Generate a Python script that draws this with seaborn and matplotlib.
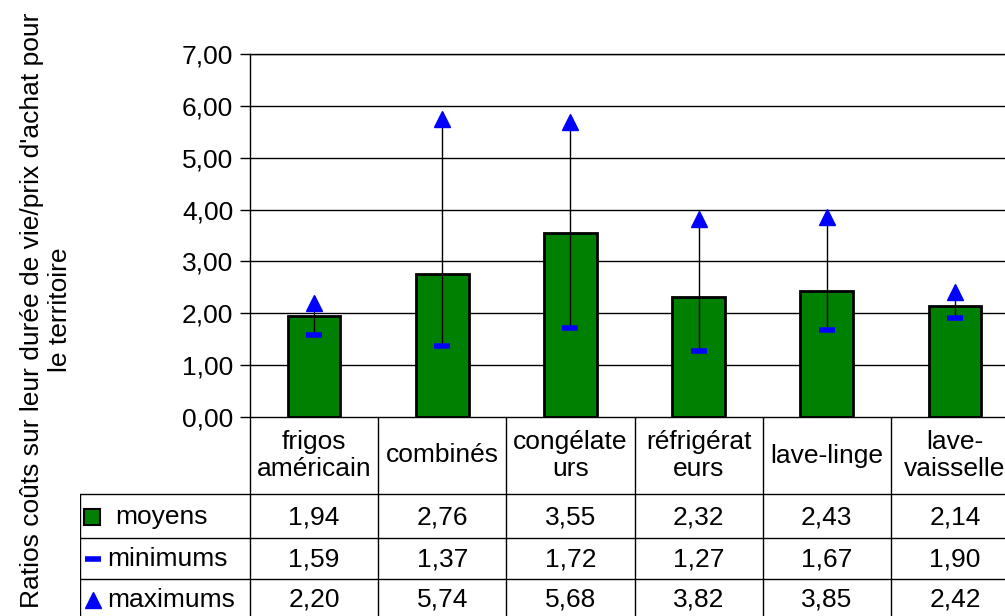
import matplotlib
matplotlib.use("Agg")
import matplotlib.pyplot as plt
import seaborn as sns

# data
categories = ["frigos américain", "combinés", "congélateurs", "réfrigérateurs", "lave-linge", "lave-vaisselle"]
header_labels = ["frigos\naméricain", "combinés", "congélate\nurs", "réfrigérat\neurs", "lave-linge", "lave-\nvaisselle"]
moyens = [1.94, 2.76, 3.55, 2.32, 2.43, 2.14]
minimums = [1.59, 1.37, 1.72, 1.27, 1.67, 1.90]
maximums = [2.20, 5.74, 5.68, 3.82, 3.85, 2.42]
yticks = [0, 1, 2, 3, 4, 5, 6, 7]

sns.set_style("white")
plt.rcParams['font.family'] = ['Liberation Sans', 'DejaVu Sans']
plt.rcParams['text.color'] = 'black'
plt.rcParams['ytick.color'] = 'black'
plt.rcParams['xtick.color'] = 'black'
FS = 19

W, H = 1005, 616
fig = plt.figure(figsize=(W / 100, H / 100), dpi=100)

# plot area (runs past the right edge like the original)
left_px, right_px, top_px, bot_px = 250, 1019, 54, 417
ax = fig.add_axes([left_px / W, 1 - bot_px / H, (right_px - left_px) / W, (bot_px - top_px) / H])

x = list(range(len(categories)))
sns.barplot(x=categories, y=moyens, color="#008000", saturation=1, edgecolor="black",
            linewidth=2, width=0.41, ax=ax, zorder=3)
ax.vlines(x, minimums, maximums, color="black", linewidth=1, zorder=4)
ax.plot(x, minimums, linestyle="none", marker="_", markersize=12, markeredgewidth=4,
        color="#0000ff", zorder=5)
ax.plot(x, maximums, linestyle="none", marker="^", markersize=12, color="#0000ff", zorder=5)

ax.set_xlim(-0.5, 5.5)
ax.set_ylim(0, 7)
ax.set_yticks(yticks)
ax.set_yticklabels([f"{v:.2f}".replace(".", ",") for v in yticks], fontsize=FS, color="black")
ax.set_xticks([])
ax.set_xlabel("")
for y in yticks[1:]:
    ax.axhline(y, color="black", linewidth=1, zorder=1)
for s in ax.spines.values():
    s.set_color("black")
    s.set_linewidth(1)
ax.tick_params(axis="y", length=7, width=1, color="black", left=True, pad=5)

# data table underneath
col_px = (right_px - left_px) / len(categories)
tab_left_px = 80
tax = fig.add_axes([tab_left_px / W, 0, (right_px - tab_left_px) / W, (H - bot_px) / H])
tax.set_xlim(-0.5 - (left_px - tab_left_px) / col_px, 5.5)
tax.set_ylim(H, bot_px)
tax.axis("off")

row_lines = [494, 538, 579, 620]
row_centers = [517, 559, 600]
xl = tax.get_xlim()[0]
for i in range(len(categories) + 1):
    tax.plot([i - 0.5, i - 0.5], [bot_px, H], color="black", linewidth=1, clip_on=False)
tax.plot([xl, xl], [row_lines[0], H], color="black", linewidth=1)
for r in row_lines[:3]:
    tax.plot([xl, 5.5], [r, r], color="black", linewidth=1)

for i, lab in enumerate(header_labels):
    tax.text(i, (bot_px + row_lines[0]) / 2, lab, ha="center", va="center",
             fontsize=FS, linespacing=1.2)

for row, yc in zip([moyens, minimums, maximums], row_centers):
    for i, v in enumerate(row):
        tax.text(i, yc, f"{v:.2f}".replace(".", ","), ha="center", va="center", fontsize=FS)

def px(p):
    return -0.5 + (p - left_px) / col_px

tax.plot(px(92), row_centers[0], marker="s", markersize=11, markerfacecolor="#008000",
         markeredgecolor="black", markeredgewidth=1.5)
tax.text(px(115), row_centers[0], "moyens", ha="left", va="center", fontsize=FS)
tax.plot(px(93), row_centers[1], marker="_", markersize=11, markeredgewidth=4, color="#0000ff")
tax.text(px(107), row_centers[1], "minimums", ha="left", va="center", fontsize=FS)
tax.plot(px(93), row_centers[2], marker="^", markersize=11, color="#0000ff")
tax.text(px(107), row_centers[2], "maximums", ha="left", va="center", fontsize=FS)

fig.text(46 / W, 1 - 310 / H, "Ratios coûts sur leur durée de vie/prix d'achat pour\nle territoire",
         rotation=90, ha="center", va="center", fontsize=FS, multialignment="center",
         linespacing=1.25)

fig.savefig("out.png", dpi=100)
